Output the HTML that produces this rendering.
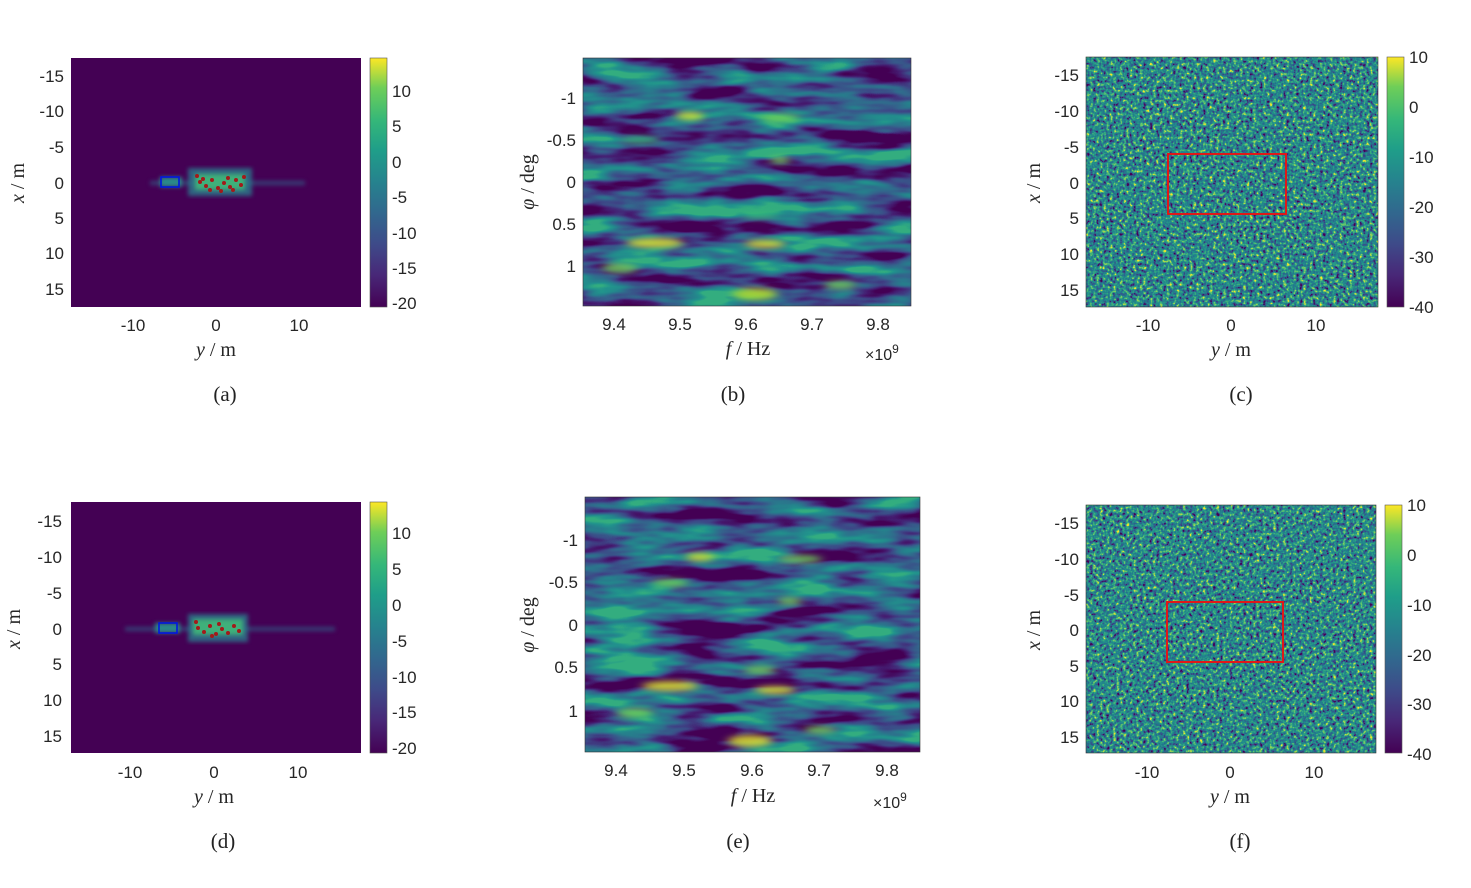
<!DOCTYPE html>
<html><head><meta charset="utf-8"><style>
html,body{margin:0;padding:0;background:#fff;}
svg{display:block;}
.t{font-family:"Liberation Sans",sans-serif;font-size:17px;fill:#262626;}
.l{font-family:"Liberation Serif",serif;font-size:20px;fill:#262626;}
.c{font-family:"Liberation Serif","Noto Serif CJK SC",serif;font-size:21px;fill:#222;}
filter{color-interpolation-filters:sRGB;}
</style></head><body>
<svg width="1471" height="888" viewBox="0 0 1471 888" xmlns="http://www.w3.org/2000/svg">
<defs>
<linearGradient id="vir" x1="0" y1="1" x2="0" y2="0">
<stop offset="0" stop-color="#440154"/><stop offset="0.13" stop-color="#482878"/><stop offset="0.25" stop-color="#3e4a89"/><stop offset="0.38" stop-color="#31688e"/><stop offset="0.5" stop-color="#26828e"/><stop offset="0.63" stop-color="#1f9e89"/><stop offset="0.75" stop-color="#35b779"/><stop offset="0.88" stop-color="#6ece58"/><stop offset="1" stop-color="#fde725"/>
</linearGradient>
<filter id="noise" x="0" y="0" width="100%" height="100%" color-interpolation-filters="sRGB">
<feTurbulence type="fractalNoise" baseFrequency="0.3" numOctaves="2" seed="3"/>
<feColorMatrix type="matrix" values="1.7 0 0 0 -0.38  1.7 0 0 0 -0.38  1.7 0 0 0 -0.38  0 0 0 0 1"/>
<feComponentTransfer>
<feFuncR type="table" tableValues="0.27 0.23 0.15 0.13 0.2 0.45 0.99"/>
<feFuncG type="table" tableValues="0.0 0.3 0.45 0.55 0.66 0.8 0.9"/>
<feFuncB type="table" tableValues="0.33 0.55 0.55 0.55 0.5 0.4 0.15"/>
</feComponentTransfer>
</filter>
<filter id="noise2" x="0" y="0" width="100%" height="100%" color-interpolation-filters="sRGB">
<feTurbulence type="fractalNoise" baseFrequency="0.3" numOctaves="2" seed="9"/>
<feColorMatrix type="matrix" values="1.7 0 0 0 -0.38  1.7 0 0 0 -0.38  1.7 0 0 0 -0.38  0 0 0 0 1"/>
<feComponentTransfer>
<feFuncR type="table" tableValues="0.27 0.23 0.15 0.13 0.2 0.45 0.99"/>
<feFuncG type="table" tableValues="0.0 0.3 0.45 0.55 0.66 0.8 0.9"/>
<feFuncB type="table" tableValues="0.33 0.55 0.55 0.55 0.5 0.4 0.15"/>
</feComponentTransfer>
</filter>
<filter id="wave" x="0" y="0" width="100%" height="100%" color-interpolation-filters="sRGB">
<feTurbulence type="fractalNoise" baseFrequency="0.012 0.055" numOctaves="3" seed="5"/>
<feColorMatrix type="matrix" values="2.4 0 0 0 -0.75  2.4 0 0 0 -0.75  2.4 0 0 0 -0.75  0 0 0 0 1"/>
<feComponentTransfer>
<feFuncR type="table" tableValues="0.27 0.27 0.24 0.2 0.15 0.13 0.2"/>
<feFuncG type="table" tableValues="0.0 0.12 0.28 0.4 0.5 0.58 0.68"/>
<feFuncB type="table" tableValues="0.33 0.45 0.53 0.55 0.55 0.55 0.5"/>
</feComponentTransfer>
</filter>
<filter id="wave2" x="0" y="0" width="100%" height="100%" color-interpolation-filters="sRGB">
<feTurbulence type="fractalNoise" baseFrequency="0.012 0.055" numOctaves="3" seed="11"/>
<feColorMatrix type="matrix" values="2.4 0 0 0 -0.75  2.4 0 0 0 -0.75  2.4 0 0 0 -0.75  0 0 0 0 1"/>
<feComponentTransfer>
<feFuncR type="table" tableValues="0.27 0.27 0.24 0.2 0.15 0.13 0.2"/>
<feFuncG type="table" tableValues="0.0 0.12 0.28 0.4 0.5 0.58 0.68"/>
<feFuncB type="table" tableValues="0.33 0.45 0.53 0.55 0.55 0.55 0.5"/>
</feComponentTransfer>
</filter>
<filter id="blur4" color-interpolation-filters="sRGB"><feGaussianBlur stdDeviation="5 3"/></filter>
<filter id="blur2" color-interpolation-filters="sRGB"><feGaussianBlur stdDeviation="2"/></filter>
</defs>

<!-- ===== (a) ===== -->
<rect x="71" y="58" width="290" height="249" fill="#440154"/>
<g filter="url(#blur2)">
<rect x="150" y="181" width="155" height="4" fill="#2f6b8e" opacity="0.6"/>
<rect x="188" y="168" width="64" height="28" fill="#2a7b8c" opacity="0.8"/>
<rect x="195" y="174" width="50" height="16" fill="#3fb07a"/>
<rect x="160" y="177" width="22" height="10" fill="#2a8a8a"/>
</g>
<g fill="#a31a1a"><circle cx="200" cy="182" r="2"/><circle cx="206" cy="186" r="2"/><circle cx="212" cy="180" r="2"/><circle cx="218" cy="188" r="2"/><circle cx="224" cy="183" r="2"/><circle cx="230" cy="187" r="2"/><circle cx="236" cy="180" r="2"/><circle cx="241" cy="185" r="2"/><circle cx="197" cy="176" r="2"/><circle cx="210" cy="190" r="2"/><circle cx="228" cy="178" r="2"/><circle cx="244" cy="177" r="2"/><circle cx="203" cy="179" r="2"/><circle cx="221" cy="191" r="2"/><circle cx="233" cy="190" r="2"/></g>
<rect x="161" y="177" width="18" height="10" fill="none" stroke="#0018e0" stroke-width="1.6"/>
<rect x="370" y="58" width="17" height="249" fill="url(#vir)" stroke="#555" stroke-width="0.6"/>
<g class="t"><text x="64" y="82" text-anchor="end">-15</text><text x="64" y="117" text-anchor="end">-10</text><text x="64" y="153" text-anchor="end">-5</text><text x="64" y="189" text-anchor="end">0</text><text x="64" y="224" text-anchor="end">5</text><text x="64" y="259" text-anchor="end">10</text><text x="64" y="295" text-anchor="end">15</text>
<text x="133" y="331" text-anchor="middle">-10</text><text x="216" y="331" text-anchor="middle">0</text><text x="299" y="331" text-anchor="middle">10</text>
<text x="392" y="97">10</text><text x="392" y="132">5</text><text x="392" y="168">0</text><text x="392" y="203">-5</text><text x="392" y="239">-10</text><text x="392" y="274">-15</text><text x="392" y="309">-20</text></g>
<text class="l" x="216" y="356" text-anchor="middle"><tspan font-style="italic">y</tspan> / m</text>
<text class="l" transform="translate(24,183) rotate(-90)" text-anchor="middle"><tspan font-style="italic">x</tspan> / m</text>
<text class="c" x="225" y="401" text-anchor="middle">(a)</text>

<!-- ===== (b) ===== -->
<rect x="583" y="58" width="328" height="248" filter="url(#wave)"/>
<g filter="url(#blur4)" fill="#d9e030" opacity="0.85">
<ellipse cx="690" cy="116" rx="14" ry="4"/><ellipse cx="780" cy="118" rx="20" ry="4" fill="#6ece58"/>
<ellipse cx="655" cy="243" rx="28" ry="5"/><ellipse cx="765" cy="244" rx="20" ry="4"/><ellipse cx="780" cy="160" rx="10" ry="4" fill="#6ece58"/>
<ellipse cx="755" cy="294" rx="22" ry="6" fill="#b5de2b"/><ellipse cx="840" cy="285" rx="16" ry="4" fill="#6ece58"/><ellipse cx="620" cy="268" rx="18" ry="5" fill="#6ece58"/>
<ellipse cx="640" cy="140" rx="20" ry="4" fill="#35b779"/><ellipse cx="760" cy="215" rx="18" ry="4" fill="#35b779"/>
</g>
<rect x="583" y="58" width="328" height="248" fill="none" stroke="#333" stroke-width="0.6"/>
<g class="t"><text x="576" y="104" text-anchor="end">-1</text><text x="576" y="146" text-anchor="end">-0.5</text><text x="576" y="188" text-anchor="end">0</text><text x="576" y="230" text-anchor="end">0.5</text><text x="576" y="272" text-anchor="end">1</text>
<text x="614" y="330" text-anchor="middle">9.4</text><text x="680" y="330" text-anchor="middle">9.5</text><text x="746" y="330" text-anchor="middle">9.6</text><text x="812" y="330" text-anchor="middle">9.7</text><text x="878" y="330" text-anchor="middle">9.8</text>
<text x="865" y="360" font-size="16">×10<tspan dy="-7" font-size="12">9</tspan></text></g>
<text class="l" x="748" y="355" text-anchor="middle"><tspan font-style="italic">f</tspan> / Hz</text>
<text class="l" transform="translate(534,182) rotate(-90)" text-anchor="middle"><tspan font-style="italic">φ</tspan> / deg</text>
<text class="c" x="733" y="401" text-anchor="middle">(b)</text>

<!-- ===== (c) ===== -->
<rect x="1086" y="57" width="292" height="250" filter="url(#noise)"/>
<rect x="1086" y="57" width="292" height="250" fill="none" stroke="#333" stroke-width="0.6"/>
<rect x="1168" y="154" width="118" height="60" fill="none" stroke="#e01818" stroke-width="2"/>
<rect x="1387" y="57" width="17" height="250" fill="url(#vir)" stroke="#555" stroke-width="0.6"/>
<g class="t"><text x="1079" y="81" text-anchor="end">-15</text><text x="1079" y="117" text-anchor="end">-10</text><text x="1079" y="153" text-anchor="end">-5</text><text x="1079" y="189" text-anchor="end">0</text><text x="1079" y="224" text-anchor="end">5</text><text x="1079" y="260" text-anchor="end">10</text><text x="1079" y="296" text-anchor="end">15</text>
<text x="1148" y="331" text-anchor="middle">-10</text><text x="1231" y="331" text-anchor="middle">0</text><text x="1316" y="331" text-anchor="middle">10</text>
<text x="1409" y="63">10</text><text x="1409" y="113">0</text><text x="1409" y="163">-10</text><text x="1409" y="213">-20</text><text x="1409" y="263">-30</text><text x="1409" y="313">-40</text></g>
<text class="l" x="1231" y="356" text-anchor="middle"><tspan font-style="italic">y</tspan> / m</text>
<text class="l" transform="translate(1040,183) rotate(-90)" text-anchor="middle"><tspan font-style="italic">x</tspan> / m</text>
<text class="c" x="1241" y="401" text-anchor="middle">(c)</text>

<!-- ===== (d) ===== -->
<rect x="71" y="502" width="290" height="251" fill="#440154"/>
<g filter="url(#blur2)">
<rect x="125" y="627" width="210" height="4" fill="#2f6b8e" opacity="0.6"/>
<rect x="188" y="614" width="60" height="28" fill="#2a7b8c" opacity="0.8"/>
<rect x="193" y="619" width="50" height="16" fill="#3fb07a"/>
<rect x="155" y="623" width="25" height="10" fill="#2a8a8a"/>
</g>
<g fill="#a31a1a"><circle cx="198" cy="628" r="2"/><circle cx="204" cy="632" r="2"/><circle cx="210" cy="626" r="2"/><circle cx="216" cy="634" r="2"/><circle cx="222" cy="629" r="2"/><circle cx="228" cy="633" r="2"/><circle cx="234" cy="626" r="2"/><circle cx="239" cy="631" r="2"/><circle cx="196" cy="622" r="2"/><circle cx="212" cy="636" r="2"/><circle cx="219" cy="624" r="2"/></g>
<rect x="159" y="623" width="18" height="10" fill="none" stroke="#0018e0" stroke-width="1.6"/>
<rect x="370" y="502" width="17" height="251" fill="url(#vir)" stroke="#555" stroke-width="0.6"/>
<g class="t"><text x="62" y="527" text-anchor="end">-15</text><text x="62" y="563" text-anchor="end">-10</text><text x="62" y="599" text-anchor="end">-5</text><text x="62" y="635" text-anchor="end">0</text><text x="62" y="670" text-anchor="end">5</text><text x="62" y="706" text-anchor="end">10</text><text x="62" y="742" text-anchor="end">15</text>
<text x="130" y="778" text-anchor="middle">-10</text><text x="214" y="778" text-anchor="middle">0</text><text x="298" y="778" text-anchor="middle">10</text>
<text x="392" y="539">10</text><text x="392" y="575">5</text><text x="392" y="611">0</text><text x="392" y="647">-5</text><text x="392" y="683">-10</text><text x="392" y="718">-15</text><text x="392" y="754">-20</text></g>
<text class="l" x="214" y="803" text-anchor="middle"><tspan font-style="italic">y</tspan> / m</text>
<text class="l" transform="translate(20,629) rotate(-90)" text-anchor="middle"><tspan font-style="italic">x</tspan> / m</text>
<text class="c" x="223" y="848" text-anchor="middle">(d)</text>

<!-- ===== (e) ===== -->
<rect x="585" y="497" width="335" height="255" filter="url(#wave2)"/>
<g filter="url(#blur4)" fill="#d9e030" opacity="0.85">
<ellipse cx="700" cy="557" rx="14" ry="4"/><ellipse cx="800" cy="559" rx="22" ry="4" fill="#6ece58"/>
<ellipse cx="670" cy="686" rx="28" ry="5"/><ellipse cx="775" cy="690" rx="20" ry="4"/><ellipse cx="790" cy="601" rx="12" ry="4" fill="#6ece58"/>
<ellipse cx="750" cy="741" rx="22" ry="6"/><ellipse cx="820" cy="730" rx="16" ry="4" fill="#6ece58"/><ellipse cx="635" cy="713" rx="18" ry="5" fill="#6ece58"/>
<ellipse cx="670" cy="583" rx="18" ry="4" fill="#6ece58"/><ellipse cx="760" cy="670" rx="16" ry="4" fill="#6ece58"/>
</g>
<rect x="585" y="497" width="335" height="255" fill="none" stroke="#333" stroke-width="0.6"/>
<g class="t"><text x="578" y="546" text-anchor="end">-1</text><text x="578" y="588" text-anchor="end">-0.5</text><text x="578" y="631" text-anchor="end">0</text><text x="578" y="673" text-anchor="end">0.5</text><text x="578" y="717" text-anchor="end">1</text>
<text x="616" y="776" text-anchor="middle">9.4</text><text x="684" y="776" text-anchor="middle">9.5</text><text x="752" y="776" text-anchor="middle">9.6</text><text x="819" y="776" text-anchor="middle">9.7</text><text x="887" y="776" text-anchor="middle">9.8</text>
<text x="873" y="808" font-size="16">×10<tspan dy="-7" font-size="12">9</tspan></text></g>
<text class="l" x="753" y="802" text-anchor="middle"><tspan font-style="italic">f</tspan> / Hz</text>
<text class="l" transform="translate(534,625) rotate(-90)" text-anchor="middle"><tspan font-style="italic">φ</tspan> / deg</text>
<text class="c" x="738" y="848" text-anchor="middle">(e)</text>

<!-- ===== (f) ===== -->
<rect x="1086" y="505" width="290" height="248" filter="url(#noise2)"/>
<rect x="1086" y="505" width="290" height="248" fill="none" stroke="#333" stroke-width="0.6"/>
<rect x="1167" y="602" width="116" height="60" fill="none" stroke="#e01818" stroke-width="2"/>
<rect x="1385" y="505" width="17" height="248" fill="url(#vir)" stroke="#555" stroke-width="0.6"/>
<g class="t"><text x="1079" y="529" text-anchor="end">-15</text><text x="1079" y="565" text-anchor="end">-10</text><text x="1079" y="601" text-anchor="end">-5</text><text x="1079" y="636" text-anchor="end">0</text><text x="1079" y="672" text-anchor="end">5</text><text x="1079" y="707" text-anchor="end">10</text><text x="1079" y="743" text-anchor="end">15</text>
<text x="1147" y="778" text-anchor="middle">-10</text><text x="1230" y="778" text-anchor="middle">0</text><text x="1314" y="778" text-anchor="middle">10</text>
<text x="1407" y="511">10</text><text x="1407" y="561">0</text><text x="1407" y="611">-10</text><text x="1407" y="661">-20</text><text x="1407" y="710">-30</text><text x="1407" y="760">-40</text></g>
<text class="l" x="1230" y="803" text-anchor="middle"><tspan font-style="italic">y</tspan> / m</text>
<text class="l" transform="translate(1040,630) rotate(-90)" text-anchor="middle"><tspan font-style="italic">x</tspan> / m</text>
<text class="c" x="1240" y="848" text-anchor="middle">(f)</text>
</svg>
</body></html>
